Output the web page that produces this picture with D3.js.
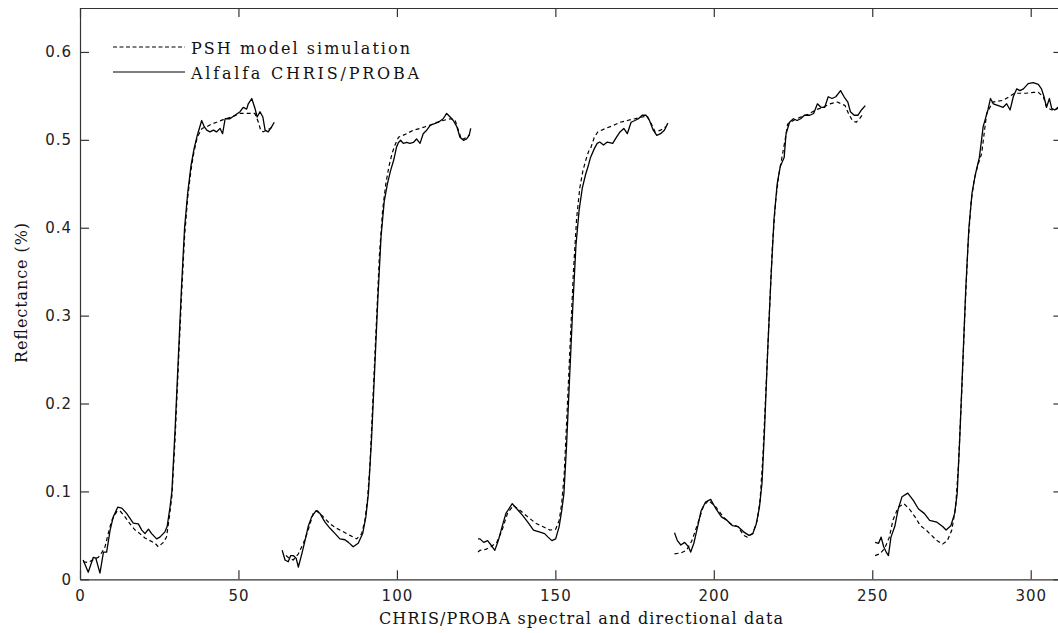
<!DOCTYPE html>
<html>
<head>
<meta charset="utf-8">
<script src="https://cdn.jsdelivr.net/npm/d3@7"></script>
<style>
	body { margin: 0; background: #fff; }
	svg { display: block; }
	.tick text { font-family: "DejaVu Sans", sans-serif; font-size: 15px; fill: #222; letter-spacing: 1px; }
	.axis path, .axis line { stroke: #333; stroke-width: 1.2; }
	.label { font-family: "DejaVu Serif", serif; font-size: 16px; fill: #111; }
</style>
</head>
<body>
<div id="chart-area"></div>
<script>

// SVG Size
let width = 1058,
	height = 633;

let margin = {left: 80, top: 8};
let plotW = 982.4,
	plotH = 571.3;

// tick labels
let xTicks = [0, 50, 100, 150, 200, 250, 300];
let xTickLabels = ["0", "50", "100", "150", "200", "250", "300"];
let yTicks = [0, 0.1, 0.2, 0.3, 0.4, 0.5, 0.6];
let yTickLabels = ["0", "0.1", "0.2", "0.3", "0.4", "0.5", "0.6"];

let seriesNames = ["PSH model simulation", "Alfalfa CHRIS/PROBA"];

// Alfalfa CHRIS/PROBA (solid), one array per viewing angle: [band index, reflectance]
let obs1 = [[1,0.022],[2.6,0.008],[4.2,0.025],[5,0.024],[6.3,0.007],[7.4,0.031],[8.4,0.031],[9.5,0.056],[10.5,0.071],[11.9,0.082],[13.2,0.081],[14.7,0.075],[16.8,0.064],[18.4,0.063],[19.5,0.056],[20.5,0.052],[21.6,0.057],[22.6,0.052],[24.2,0.046],[25.2,0.048],[26.8,0.054],[27.5,0.06],[28.4,0.082],[29,0.1],[30,0.17],[31,0.25],[32,0.33],[33,0.4],[34,0.44],[35,0.47],[36,0.49],[37,0.505],[38.4,0.522],[39.2,0.515],[40,0.511],[41,0.509],[42.1,0.511],[43.1,0.509],[44.2,0.513],[45,0.507],[45.8,0.524],[47.3,0.524],[48.9,0.528],[50.5,0.532],[51.5,0.537],[52.6,0.535],[53.1,0.541],[54.2,0.547],[55.2,0.536],[55.9,0.526],[56.8,0.532],[57.7,0.526],[58.4,0.511],[59.4,0.509],[60.5,0.515],[61.3,0.52]];
let obs2 = [[63.8,0.033],[64.7,0.022],[65.7,0.02],[66.5,0.027],[67.3,0.027],[68.2,0.024],[68.9,0.014],[70,0.029],[71,0.044],[72,0.06],[73.1,0.071],[74.5,0.078],[75.7,0.075],[77.3,0.065],[78.9,0.058],[80.5,0.052],[82,0.046],[83.6,0.045],[84.7,0.042],[86.2,0.037],[87.8,0.041],[89.2,0.052],[90.2,0.071],[91,0.0975],[92,0.16],[93,0.24],[94,0.32],[95,0.39],[96,0.43],[97,0.45],[98,0.465],[99,0.477],[99.9,0.492],[100.5,0.497],[101.2,0.4995],[102,0.496],[103.1,0.497],[104.1,0.496],[105.2,0.497],[106.2,0.501],[107.3,0.496],[108.3,0.507],[109.4,0.511],[110.4,0.516],[111.5,0.518],[113.1,0.52],[114.6,0.524],[115.7,0.53],[116.8,0.526],[117.8,0.522],[118.9,0.515],[119.9,0.503],[121,0.4995],[122,0.501],[122.8,0.505],[123.3,0.513]];
let obs3 = [[125.6,0.046],[126.2,0.046],[127.4,0.042],[128.6,0.044],[129.7,0.039],[130.9,0.033],[132,0.044],[133.2,0.06],[134.4,0.075],[136.4,0.086],[137.9,0.08],[139.6,0.073],[141.3,0.065],[143.1,0.056],[144.9,0.054],[146.6,0.052],[147.7,0.048],[148.9,0.044],[150.1,0.046],[151.2,0.06],[152,0.078],[152.7,0.0975],[153.5,0.15],[154.5,0.23],[155.5,0.31],[156.5,0.38],[157.5,0.42],[158.5,0.445],[159.5,0.46],[160.5,0.472],[161.1,0.48],[162.3,0.49],[163.2,0.496],[164,0.4975],[165.2,0.494],[166.4,0.4975],[168.1,0.496],[169.3,0.503],[170.4,0.509],[171.6,0.513],[172.7,0.507],[173.9,0.52],[175.1,0.522],[176.2,0.524],[177.4,0.528],[178.6,0.528],[179.7,0.522],[180.9,0.511],[182,0.505],[183.2,0.507],[184.4,0.511],[185.5,0.519]];
let obs4 = [[187.6,0.053],[188.5,0.044],[189.6,0.039],[190.8,0.042],[192,0.037],[192.7,0.031],[193.7,0.041],[194.9,0.06],[196,0.078],[197.4,0.088],[199,0.091],[200.7,0.08],[202.4,0.071],[204.2,0.067],[205.9,0.061],[207.6,0.06],[209.4,0.054],[211.1,0.05],[212.3,0.052],[213.4,0.063],[214.4,0.082],[215.2,0.109],[216,0.17],[217,0.26],[218,0.34],[219,0.41],[220,0.45],[221,0.47],[222.2,0.48],[222.8,0.507],[223.9,0.52],[225.1,0.524],[226.3,0.522],[227.4,0.524],[228.6,0.528],[230.3,0.528],[231.5,0.53],[232.7,0.541],[233.8,0.537],[235,0.537],[236.1,0.549],[237.3,0.547],[238.5,0.549],[240,0.556],[241.1,0.549],[242.3,0.543],[243.1,0.532],[244.3,0.528],[245.5,0.528],[246.6,0.534],[247.8,0.539]];
let obs5 = [[250.9,0.042],[252,0.041],[252.8,0.048],[253.6,0.037],[254.4,0.031],[255.1,0.027],[255.9,0.048],[257.1,0.06],[258.2,0.08],[259.4,0.094],[261.2,0.098],[262.9,0.09],[264.6,0.08],[266.4,0.075],[268.1,0.067],[270.4,0.065],[272.2,0.06],[273.3,0.056],[274.8,0.061],[276,0.075],[276.8,0.0975],[277.6,0.16],[278.5,0.24],[279.5,0.33],[280.5,0.4],[281.5,0.44],[282.5,0.46],[283.8,0.48],[285,0.515],[286.5,0.534],[287.3,0.547],[288.2,0.541],[289.8,0.539],[291.3,0.537],[292.4,0.541],[293.5,0.534],[294.5,0.549],[295.6,0.558],[296.6,0.556],[297.7,0.558],[299.2,0.564],[300.8,0.565],[302.4,0.563],[303.4,0.558],[304.2,0.549],[305,0.537],[305.9,0.547],[306.6,0.536],[307.6,0.534],[308.6,0.537],[309.5,0.54]];

// PSH model simulation (dashed)
let sim1 = [[1,0.02],[2.5,0.019],[4,0.022],[5.8,0.025],[6.8,0.03],[7.9,0.037],[8.9,0.052],[10,0.067],[11.6,0.077],[12.6,0.078],[14.2,0.071],[15.8,0.063],[17.4,0.056],[18.9,0.052],[20.5,0.047],[22.1,0.044],[23.7,0.041],[24.7,0.037],[26.3,0.042],[27.3,0.048],[28.2,0.071],[29,0.095],[30,0.16],[31,0.24],[32,0.32],[33,0.39],[34,0.435],[35,0.465],[36,0.487],[37,0.503],[38.5,0.513],[40,0.515],[41.5,0.518],[43.1,0.52],[45.2,0.523],[47.9,0.526],[50.5,0.53],[53.1,0.53],[55.2,0.53],[56.3,0.52],[57,0.511],[57.8,0.509],[58.9,0.511],[60,0.513],[61.3,0.516]];
let sim2 = [[65,0.027],[66,0.024],[67.3,0.022],[68.9,0.029],[70.5,0.041],[72,0.056],[73.6,0.075],[74.9,0.078],[76.8,0.071],[78.9,0.063],[81,0.058],[83.1,0.054],[85.2,0.05],[87.3,0.046],[88.9,0.052],[89.9,0.067],[90.7,0.09],[91.5,0.13],[92.5,0.21],[93.5,0.29],[94.5,0.37],[95.5,0.42],[96.5,0.45],[97.5,0.47],[98.5,0.485],[99.5,0.495],[100.5,0.503],[103.1,0.507],[105.2,0.511],[107.3,0.513],[109.9,0.516],[112.6,0.52],[114.6,0.522],[116.8,0.524],[118.3,0.523],[119.4,0.511],[120.4,0.5],[121.5,0.502],[123,0.506]];
let sim3 = [[125.6,0.031],[126.2,0.033],[128,0.034],[129.7,0.037],[131.5,0.042],[133.2,0.056],[134.9,0.075],[136.7,0.084],[139,0.078],[141.3,0.071],[143.7,0.064],[146,0.06],[148.3,0.056],[150.1,0.057],[151.2,0.067],[152,0.086],[152.8,0.12],[153.7,0.19],[154.7,0.27],[155.7,0.35],[156.7,0.41],[157.7,0.445],[158.7,0.465],[159.7,0.478],[160.5,0.487],[161.1,0.49],[162.3,0.503],[163.4,0.509],[165.8,0.513],[168.1,0.516],[170.4,0.52],[172.7,0.522],[175.1,0.524],[177.4,0.526],[179,0.527],[180.3,0.518],[181.5,0.509],[183.2,0.511],[184.9,0.515]];
let sim4 = [[187.6,0.029],[189.6,0.03],[191.4,0.033],[193.1,0.044],[194.9,0.063],[196.6,0.082],[198.3,0.09],[200.7,0.082],[203,0.071],[205.3,0.063],[207.6,0.06],[209.4,0.05],[210.5,0.048],[212.3,0.052],[213.7,0.067],[214.6,0.09],[215.5,0.14],[216.5,0.22],[217.5,0.3],[218.5,0.38],[219.5,0.43],[220.5,0.46],[221.5,0.48],[222.5,0.5],[223.3,0.518],[225.1,0.522],[227.4,0.526],[229.7,0.529],[232.1,0.534],[234.4,0.537],[236.7,0.541],[239,0.543],[241.4,0.539],[242.5,0.53],[243.7,0.522],[244.9,0.52],[246,0.524],[247.2,0.53]];
let sim5 = [[250.9,0.027],[252.4,0.029],[253.9,0.035],[255.4,0.048],[256.5,0.067],[258.2,0.082],[260,0.086],[261.7,0.08],[263.5,0.071],[265.2,0.061],[267,0.056],[268.7,0.05],[270.4,0.044],[272.2,0.04],[273.7,0.044],[275.1,0.056],[276.3,0.082],[277.2,0.13],[278.2,0.21],[279.2,0.3],[280.2,0.38],[281.2,0.43],[282.2,0.455],[283.2,0.47],[284.5,0.484],[286.1,0.53],[288,0.543],[291.4,0.545],[294.9,0.553],[298.4,0.553],[301,0.554],[302.4,0.554],[304,0.549],[305,0.537],[306.6,0.534],[308.1,0.535],[309.5,0.537]];

let observed = [obs1, obs2, obs3, obs4, obs5];
let simulated = [sim1, sim2, sim3, sim4, sim5];

drawChart();

function drawChart() {
	let svg = d3.select("#chart-area").append("svg").attr("width", width).attr("height", height);

	let x = d3.scaleLinear().domain([0, 310]).range([margin.left, margin.left + plotW]);
	let y = d3.scaleLinear().domain([0, 0.65]).range([margin.top + plotH, margin.top]);

	svg.append("defs").append("clipPath").attr("id", "plot-clip")
		.append("rect")
		.attr("x", margin.left).attr("y", margin.top)
		.attr("width", plotW).attr("height", plotH);

	let line = d3.line().x(d => x(d[0])).y(d => y(d[1]));

	let plot = svg.append("g").attr("clip-path", "url(#plot-clip)");

	// model first, measurements on top
	plot.selectAll(".sim")
		.data(simulated)
		.enter()
		.append("path")
		.attr("class", "sim")
		.attr("d", line)
		.attr("fill", "none")
		.attr("stroke", "#000")
		.attr("stroke-width", 1.2)
		.attr("stroke-dasharray", "4,3");

	plot.selectAll(".obs")
		.data(observed)
		.enter()
		.append("path")
		.attr("class", "obs")
		.attr("d", line)
		.attr("fill", "none")
		.attr("stroke", "#000")
		.attr("stroke-width", 1.3)
		.attr("stroke-linejoin", "round");

	// Axis (box with inward ticks)
	let xAxis = d3.axisBottom(x).tickValues(xTicks).tickSizeInner(-9).tickSizeOuter(0).tickPadding(11)
		.tickFormat((d, i) => xTickLabels[i]);
	let yAxis = d3.axisLeft(y).tickValues(yTicks).tickSizeInner(-9).tickSizeOuter(0).tickPadding(8)
		.tickFormat((d, i) => yTickLabels[i]);
	let xTop = d3.axisTop(x).tickValues(xTicks).tickSizeInner(-9).tickSizeOuter(0).tickFormat("");
	let yRight = d3.axisRight(y).tickValues(yTicks).tickSizeInner(-9).tickSizeOuter(0).tickFormat("");

	svg.append("g").attr("class", "axis x-axis")
		.attr("transform", "translate(0," + (margin.top + plotH) + ")")
		.call(xAxis);
	svg.append("g").attr("class", "axis y-axis")
		.attr("transform", "translate(" + margin.left + ",0)")
		.call(yAxis);
	svg.append("g").attr("class", "axis")
		.attr("transform", "translate(0," + margin.top + ")")
		.call(xTop);
	svg.append("g").attr("class", "axis")
		.attr("transform", "translate(" + (margin.left + plotW) + ",0)")
		.call(yRight);

	svg.append("text")
		.attr("class", "label")
		.attr("x", 581)
		.attr("y", 624)
		.attr("text-anchor", "middle")
		.attr("textLength", 404)
		.attr("lengthAdjust", "spacing")
		.text("CHRIS/PROBA spectral and directional data");

	svg.append("text")
		.attr("class", "label")
		.attr("x", -293)
		.attr("y", 27)
		.attr("text-anchor", "middle")
		.attr("transform", "rotate(-90)")
		.attr("textLength", 140)
		.attr("lengthAdjust", "spacing")
		.text("Reflectance (%)");

	// legend
	let legend = svg.append("g").attr("class", "legend");
	let legendRows = [
		{name: seriesNames[0], dash: "4,2.5", ly: 47, ty: 53.5, len: 219},
		{name: seriesNames[1], dash: null, ly: 72, ty: 79, len: 228}
	];
	legendRows.forEach(r => {
		legend.append("line")
			.attr("x1", 113).attr("x2", 185)
			.attr("y1", r.ly).attr("y2", r.ly)
			.attr("stroke", "#000")
			.attr("stroke-width", 1.2)
			.attr("stroke-dasharray", r.dash);
		legend.append("text")
			.attr("class", "label")
			.attr("x", 191)
			.attr("y", r.ty)
			.attr("textLength", r.len)
			.attr("lengthAdjust", "spacing")
			.text(r.name);
	});
}

</script>
</body>
</html>
